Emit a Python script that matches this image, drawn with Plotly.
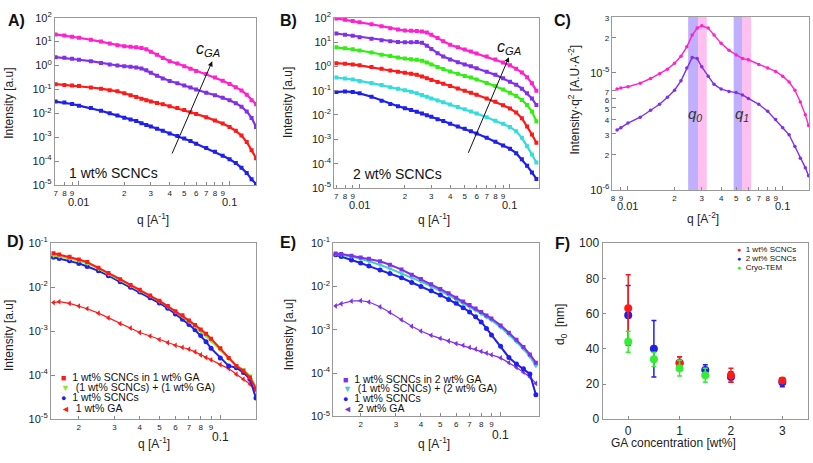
import plotly.graph_objects as go

W, H = 813, 463
FONT = "Liberation Sans, Arial, sans-serif"

# ---------------- data ----------------
# Panels A and B: scattering vector q [1/A] and log10(intensity)
q_AB = [0.007, 0.008, 0.009, 0.010, 0.012, 0.014, 0.016, 0.018, 0.020, 0.022,
        0.024, 0.026, 0.028, 0.030, 0.033, 0.036, 0.040, 0.045, 0.050, 0.055,
        0.060, 0.070, 0.080, 0.090, 0.100, 0.110, 0.120, 0.130, 0.140, 0.150]

A_magenta = [1.30, 1.26, 1.20, 1.16, 1.08, 1.00, 0.92, 0.85, 0.81, 0.78, 0.76, 0.73, 0.68, 0.58, 0.45,
             0.31, 0.18, 0.08, -0.03, -0.14, -0.23, -0.36, -0.50, -0.64, -0.77, -0.91, -1.04, -1.22, -1.45, -1.62]
A_purple = [0.35, 0.32, 0.28, 0.24, 0.18, 0.11, 0.04, 0.00, -0.03, -0.05, -0.08, -0.12, -0.20, -0.30, -0.43,
            -0.54, -0.65, -0.74, -0.84, -0.92, -1.00, -1.14, -1.24, -1.35, -1.45, -1.58, -1.72, -1.92, -2.19, -2.57]
A_red = [-0.78, -0.81, -0.84, -0.86, -0.92, -0.97, -1.03, -1.08, -1.16, -1.24, -1.32, -1.39, -1.45, -1.50, -1.57,
         -1.62, -1.70, -1.78, -1.86, -1.95, -2.03, -2.16, -2.30, -2.43, -2.57, -2.73, -2.93, -3.20, -3.54, -3.88]
A_blue = [-1.51, -1.55, -1.61, -1.68, -1.78, -1.89, -2.00, -2.09, -2.18, -2.26, -2.32, -2.41, -2.49, -2.55, -2.64,
          -2.73, -2.84, -2.95, -3.05, -3.16, -3.27, -3.45, -3.61, -3.77, -3.92, -4.08, -4.28, -4.49, -4.76, -4.96]

B_magenta = [1.97, 1.92, 1.86, 1.81, 1.73, 1.65, 1.57, 1.51, 1.47, 1.46, 1.45, 1.43, 1.39, 1.30, 1.16,
             1.03, 0.89, 0.78, 0.69, 0.61, 0.53, 0.40, 0.28, 0.16, 0.04, -0.10, -0.25, -0.45, -0.70, -1.00]
B_purple = [1.35, 1.30, 1.26, 1.20, 1.13, 1.07, 1.03, 1.00, 0.99, 0.99, 1.00, 0.97, 0.85, 0.71, 0.54,
            0.40, 0.28, 0.17, 0.08, 0.00, -0.08, -0.22, -0.35, -0.49, -0.63, -0.76, -0.92, -1.11, -1.32, -1.59]
B_green = [0.78, 0.74, 0.70, 0.65, 0.57, 0.48, 0.42, 0.36, 0.32, 0.29, 0.27, 0.23, 0.16, 0.08, -0.03,
           -0.11, -0.21, -0.30, -0.40, -0.46, -0.54, -0.68, -0.81, -0.95, -1.09, -1.22, -1.38, -1.59, -1.86, -2.26]
B_red = [0.13, 0.11, 0.08, 0.04, -0.03, -0.10, -0.17, -0.22, -0.26, -0.30, -0.35, -0.42, -0.49, -0.56, -0.64,
         -0.72, -0.81, -0.91, -1.00, -1.09, -1.17, -1.32, -1.46, -1.60, -1.73, -1.90, -2.13, -2.47, -2.80, -3.14]
B_cyan = [-0.46, -0.50, -0.54, -0.60, -0.68, -0.77, -0.86, -0.92, -0.98, -1.04, -1.11, -1.18, -1.25, -1.32, -1.40,
          -1.48, -1.57, -1.67, -1.76, -1.86, -1.94, -2.09, -2.24, -2.36, -2.49, -2.67, -2.94, -3.28, -3.62, -3.95]
B_blue = [-1.06, -1.03, -1.06, -1.11, -1.25, -1.41, -1.55, -1.64, -1.72, -1.79, -1.87, -1.94, -2.01, -2.07, -2.17,
          -2.25, -2.36, -2.47, -2.57, -2.67, -2.76, -2.94, -3.10, -3.25, -3.39, -3.57, -3.82, -4.09, -4.36, -4.63]

# Panel C: Kratky-type plot, log10(I*q^2)
q_C = [0.0085, 0.009, 0.010, 0.012, 0.014, 0.016, 0.018, 0.020, 0.022, 0.024, 0.026, 0.028, 0.030, 0.033,
       0.036, 0.040, 0.045, 0.050, 0.055, 0.060, 0.070, 0.080, 0.090, 0.100, 0.110, 0.120, 0.130, 0.140, 0.147]
C_magenta = [-5.14, -5.13, -5.12, -5.09, -5.05, -5.01, -4.97, -4.92, -4.86, -4.78, -4.68, -4.62, -4.60, -4.62,
             -4.68, -4.75, -4.81, -4.85, -4.88, -4.89, -4.93, -4.96, -4.99, -5.03, -5.08, -5.15, -5.25, -5.36, -5.45]
C_purple = [-5.49, -5.47, -5.43, -5.38, -5.32, -5.27, -5.21, -5.15, -5.07, -4.96, -4.87, -4.88, -4.95, -5.03,
            -5.10, -5.14, -5.16, -5.17, -5.19, -5.22, -5.27, -5.33, -5.40, -5.47, -5.53, -5.63, -5.73, -5.81, -5.88]
q0_band = [0.0245, 0.0284, 0.0323]
q1_band = [0.0482, 0.0547, 0.0625]

# Panels D and E
q_DE = [0.015, 0.016, 0.018, 0.020, 0.022, 0.025, 0.028, 0.032, 0.036, 0.040, 0.045, 0.050, 0.055,
        0.060, 0.065, 0.070, 0.075, 0.080, 0.085, 0.090, 0.100, 0.110, 0.120, 0.130, 0.140, 0.150]
D_mix = [-1.23, -1.26, -1.31, -1.37, -1.43, -1.56, -1.68, -1.82, -1.95, -2.06, -2.19, -2.31, -2.43,
         -2.55, -2.64, -2.76, -2.86, -2.96, -3.06, -3.17, -3.39, -3.61, -3.79, -3.90, -4.05, -4.31]
D_sum = [-1.28, -1.30, -1.35, -1.40, -1.46, -1.58, -1.70, -1.84, -1.97, -2.08, -2.20, -2.32, -2.44,
         -2.56, -2.66, -2.78, -2.89, -3.00, -3.11, -3.22, -3.43, -3.63, -3.79, -3.87, -4.01, -4.27]
D_scnc = [-1.32, -1.35, -1.40, -1.46, -1.53, -1.63, -1.74, -1.88, -2.00, -2.11, -2.24, -2.36, -2.48,
          -2.61, -2.73, -2.85, -2.97, -3.10, -3.24, -3.39, -3.61, -3.79, -3.83, -3.94, -4.09, -4.52]
D_ga = [-2.35, -2.33, -2.37, -2.43, -2.49, -2.59, -2.70, -2.83, -2.93, -3.03, -3.11, -3.19, -3.26,
        -3.32, -3.37, -3.41, -3.47, -3.54, -3.60, -3.65, -3.76, -3.85, -3.98, -4.09, -4.20, -4.34]

E_mix = [-1.24, -1.25, -1.29, -1.33, -1.36, -1.42, -1.50, -1.61, -1.73, -1.83, -1.95, -2.06, -2.16,
         -2.26, -2.35, -2.43, -2.51, -2.59, -2.67, -2.74, -2.90, -3.07, -3.23, -3.40, -3.57, -3.76]
E_sum = [-1.25, -1.27, -1.31, -1.36, -1.42, -1.50, -1.59, -1.70, -1.80, -1.89, -2.00, -2.10, -2.20,
         -2.30, -2.39, -2.47, -2.55, -2.63, -2.71, -2.78, -2.94, -3.11, -3.28, -3.44, -3.62, -3.83]
E_scnc = [-1.27, -1.31, -1.39, -1.46, -1.53, -1.62, -1.70, -1.80, -1.91, -2.00, -2.10, -2.20, -2.30,
          -2.39, -2.49, -2.59, -2.70, -2.82, -2.97, -3.12, -3.38, -3.64, -3.79, -3.90, -4.02, -4.50]
E_ga = [-2.45, -2.40, -2.34, -2.33, -2.36, -2.47, -2.60, -2.77, -2.92, -3.03, -3.13, -3.20, -3.26,
        -3.32, -3.36, -3.41, -3.45, -3.50, -3.54, -3.58, -3.65, -3.76, -3.87, -3.98, -4.09, -4.24]

# Panel F: d0 [nm] versus GA concentration [wt%]
F_conc_1wt = [0, 1, 2, 3]
F_d0_1wt = [63, 32, 25, 22]
F_err_1wt = [19, 3.5, 4, 1.5]
F_conc_2wt = [0, 0.5, 1, 1.5, 2, 3]
F_d0_2wt = [59, 40, 32, 28, 24, 21]
F_err_2wt = [17, 16, 3.5, 3, 3, 2.5]
F_conc_tem = [0, 0.5, 1, 1.5]
F_d0_tem = [44, 34, 29, 25]
F_err_tem = [6, 4, 4.5, 4]

# ---------------- colours ----------------
MAG = "#ff22cc"
PUR = "#8030e8"
RED = "#ff1a1a"
BLU = "#1f1fee"
GRN = "#33ee11"
CYA = "#33dddd"
LIME = "#8ee633"
ECYA = "#44cccc"
FGRN = "#33ee33"


def dom_x(a, b):
    return [a / W, b / W]


def dom_y(top, bot):
    return [1 - bot / H, 1 - top / H]


def log_xaxis(domain, rng, vals, texts, anchor, decades):
    return dict(type="log", domain=domain, range=rng, tickvals=vals, ticktext=texts,
                ticks="inside", ticklen=3, tickcolor="#888", tickwidth=1,
                minor=dict(tickvals=decades, ticks="inside", ticklen=4, tickcolor="#888"),
                showline=True, linecolor="#999", linewidth=1, mirror=True,
                showgrid=False, zeroline=False, anchor=anchor,
                tickfont=dict(size=8, color="#222", family=FONT))


def log_yaxis(domain, rng, vals, texts, anchor):
    return dict(type="log", domain=domain, range=rng, tickvals=vals, ticktext=texts,
                ticks="inside", ticklen=4, tickcolor="#888", tickwidth=1,
                showline=True, linecolor="#999", linewidth=1, mirror=True,
                showgrid=False, zeroline=False, anchor=anchor,
                tickfont=dict(size=11, color="#222", family=FONT))


digits = ["2", "3", "4", "5", "6", "7", "8", "9"]
mid_vals = [0.02, 0.03, 0.04, 0.05, 0.06, 0.07, 0.08, 0.09]

xA_vals = [0.007, 0.008, 0.009] + mid_vals
xA_text = ["7", "8", "9"] + digits
xC_vals = [0.008, 0.009] + mid_vals
xC_text = ["8", "9"] + digits
xD_vals = mid_vals
xD_text = digits
decade_vals = [0.01, 0.1]
decade_labels = ["0.01", "0.1"]

dec_vals = [1e-5, 1e-4, 1e-3, 1e-2, 1e-1, 1e0, 1e1, 1e2]
dec_text = ["10<sup>%d</sup>" % e for e in range(-5, 3)]
dec_vals_DE = [1e-5, 1e-4, 1e-3, 1e-2, 1e-1]
dec_text_DE = ["10<sup>%d</sup>" % e for e in range(-5, 0)]
sd = '<span style="font-size:8px">%s</span>'
yC_vals = [1e-6, 2e-6, 3e-6, 4e-6, 5e-6, 6e-6, 7e-6, 1e-5, 2e-5, 3e-5]
yC_text = ["10<sup>-6</sup>", sd % "2", sd % "3", sd % "4", sd % "5", sd % "6", sd % "7",
           "10<sup>-5</sup>", sd % "2", sd % "3"]

fig = go.Figure()


def curve(q, logI, color, xa, ya, symbol="square", size=4, lw=2.2):
    fig.add_trace(go.Scatter(
        x=q, y=[10 ** v for v in logI], xaxis=xa, yaxis=ya, mode="lines+markers",
        line=dict(color=color, width=lw), marker=dict(symbol=symbol, size=size, color=color),
        showlegend=False, hoverinfo="skip"))


# Panel A
for arr, c in [(A_blue, BLU), (A_red, RED), (A_purple, PUR), (A_magenta, MAG)]:
    curve(q_AB, arr, c, "x", "y")
# Panel B
for arr, c in [(B_blue, BLU), (B_cyan, CYA), (B_red, RED), (B_green, GRN), (B_purple, PUR), (B_magenta, MAG)]:
    curve(q_AB, arr, c, "x2", "y2")
# Panel C
for arr, c in [(C_purple, PUR), (C_magenta, MAG)]:
    curve(q_C, arr, c, "x3", "y3", symbol="circle", size=3.5, lw=1.4)
# Panel D
curve(q_DE, D_ga, RED, "x4", "y4", symbol="triangle-left", size=5, lw=1.2)
curve(q_DE, D_scnc, BLU, "x4", "y4", symbol="circle", size=5, lw=2)
curve(q_DE, D_sum, LIME, "x4", "y4", symbol="triangle-down", size=5, lw=2)
curve(q_DE, D_mix, RED, "x4", "y4", symbol="square", size=4, lw=2)
# Panel E
curve(q_DE, E_ga, PUR, "x5", "y5", symbol="triangle-left", size=5, lw=1.2)
curve(q_DE, E_scnc, BLU, "x5", "y5", symbol="circle", size=5, lw=2)
curve(q_DE, E_sum, ECYA, "x5", "y5", symbol="triangle-down", size=5, lw=2)
curve(q_DE, E_mix, PUR, "x5", "y5", symbol="square", size=4, lw=2)

# Panel F
for xs, ys, es, c in [(F_conc_2wt, F_d0_2wt, F_err_2wt, BLU),
                      (F_conc_1wt, F_d0_1wt, F_err_1wt, RED),
                      (F_conc_tem, F_d0_tem, F_err_tem, FGRN)]:
    fig.add_trace(go.Scatter(
        x=xs, y=ys, xaxis="x6", yaxis="y6", mode="markers",
        marker=dict(symbol="circle", size=8, color=c),
        error_y=dict(type="data", array=es, color=c, thickness=1.5, width=2.5),
        showlegend=False, hoverinfo="skip"))

# Bands in C
shapes = []
for band in (q0_band, q1_band):
    shapes.append(dict(type="rect", x0=band[0], x1=band[1], xref="x3", yref="y3 domain", y0=0, y1=1,
                       fillcolor="rgba(140,110,250,0.55)", line_width=0, layer="below"))
    shapes.append(dict(type="rect", x0=band[1], x1=band[2], xref="x3", yref="y3 domain", y0=0, y1=1,
                       fillcolor="rgba(255,140,225,0.55)", line_width=0, layer="below"))

layout_axes = dict(
    xaxis=log_xaxis(dom_x(53, 255), [-2.16, -0.822], xA_vals, xA_text, "y", decade_vals),
    yaxis=log_yaxis(dom_y(10, 183), [-5, 2], dec_vals, dec_text, "x"),
    xaxis2=log_xaxis(dom_x(333, 538), [-2.169, -0.809], xA_vals, xA_text, "y2", decade_vals),
    yaxis2=log_yaxis(dom_y(10, 186), [-5, 2], dec_vals, dec_text, "x2"),
    xaxis3=log_xaxis(dom_x(612, 809), [-2.1, -0.83], xC_vals, xC_text, "y3", decade_vals),
    yaxis3=log_yaxis(dom_y(9, 188), [-6, -4.523], yC_vals, yC_text, "x3"),
    xaxis4=log_xaxis(dom_x(49, 255), [-1.837, -0.822], xD_vals, xD_text, "y4", [0.1]),
    yaxis4=log_yaxis(dom_y(243, 425), [-5, -1], dec_vals_DE, dec_text_DE, "x4"),
    xaxis5=log_xaxis(dom_x(332, 538), [-1.836, -0.81], xD_vals, xD_text, "y5", [0.1]),
    yaxis5=log_yaxis(dom_y(243, 422), [-5, -1], dec_vals_DE, dec_text_DE, "x5"),
    xaxis6=dict(domain=dom_x(602, 808), range=[-0.5, 3.5], tickvals=[0, 1, 2, 3],
                ticks="inside", ticklen=3, tickcolor="#888", showline=True, linecolor="#999",
                mirror=True, showgrid=False, zeroline=False, anchor="y6",
                tickfont=dict(size=12, color="#222", family=FONT)),
    yaxis6=dict(domain=dom_y(243, 425), range=[0, 100], tickvals=[0, 20, 40, 60, 80, 100],
                ticks="inside", ticklen=3, tickcolor="#888", showline=True, linecolor="#999",
                mirror=True, showgrid=False, zeroline=False, anchor="x6",
                tickfont=dict(size=12, color="#222", family=FONT)),
)

ann = []


def txt(x, y, s, size=12, angle=0, xanchor="center", bold=False, color="#222", italic=False):
    if bold:
        s = "<b>%s</b>" % s
    if italic:
        s = "<i>%s</i>" % s
    ann.append(dict(x=x / W, y=1 - y / H, xref="paper", yref="paper", text=s, showarrow=False,
                    xanchor=xanchor, yanchor="middle", textangle=angle,
                    font=dict(size=size, color=color, family=FONT)))


def decade_tick(xref, logq, y, label, size=11):
    ann.append(dict(x=logq, y=1 - y / H, xref=xref, yref="paper", text=label, showarrow=False,
                    xanchor="center", yanchor="middle",
                    font=dict(size=size, color="#222", family=FONT)))


# decade labels on the log q axes (second row under the digits)
decade_tick("x", -2, 201, decade_labels[0])
decade_tick("x", -1, 201, decade_labels[1])
decade_tick("x2", -2, 204, decade_labels[0])
decade_tick("x2", -1, 204, decade_labels[1])
decade_tick("x3", -2, 205, decade_labels[0])
decade_tick("x3", -1, 205, decade_labels[1])
decade_tick("x4", -1, 443, decade_labels[1], 12)
decade_tick("x5", -1, 441, decade_labels[1], 12)

# panel letters
for lab, x, y in [("A)", 15, 13), ("B)", 287, 13), ("C)", 562, 13),
                  ("D)", 14, 241), ("E)", 287, 242), ("F)", 562, 243)]:
    txt(x, y, lab, size=16, bold=True, color="#111")

# axis titles
txt(7, 98, "Intensity [a.u]", angle=-90)
txt(151, 218, "q [A<sup>-1</sup>]")
txt(287, 98, "Intensity [a.u]", angle=-90)
txt(433, 218, "q [A<sup>-1</sup>]")
txt(573, 95, "Intensity·q<sup>2</sup> [A.U·A<sup>-2</sup>]", angle=-90)
txt(703, 217, "q [A<sup>-2</sup>]")
txt(7, 338, "Intensity [a.u]", angle=-90)
txt(152, 450, "q [A<sup>-1</sup>]")
txt(288, 338, "Intensity [a.u]", angle=-90)
txt(433, 450, "q [A<sup>-1</sup>]")
txt(561, 327, "d<sub>0</sub>  [nm]", angle=-90)
txt(673, 450, "GA concentration [wt%]")

# in-panel labels
txt(65, 171, "1 wt% SCNCs", size=14, xanchor="left", color="#111")
txt(350, 172, "2 wt% SCNCs", size=14, xanchor="left", color="#111")
txt(207, 43, "c<sub>GA</sub>", size=16, italic=True, color="#111")
txt(508, 41, "c<sub>GA</sub>", size=16, italic=True, color="#111")
txt(695, 110, "q<sub>0</sub>", size=15, italic=True, color="#333")
txt(742, 110, "q<sub>1</sub>", size=15, italic=True, color="#333")

# arrows (c_GA direction), in log10 axis units
ann.append(dict(x=-1.115, y=0.176, ax=-1.386, ay=-3.743, xref="x", yref="y", axref="x", ayref="y",
                text="", showarrow=True, arrowhead=2, arrowsize=1, arrowwidth=1, arrowcolor="#111"))
ann.append(dict(x=-1.007, y=0.376, ax=-1.281, ay=-3.616, xref="x2", yref="y2", axref="x2", ayref="y2",
                text="", showarrow=True, arrowhead=2, arrowsize=1, arrowwidth=1, arrowcolor="#111"))

# legends drawn as text lines
SQ, TD, CI, TL = "\u25A0", "\u25BC", "\u25CF", "\u25C4"


def leg(x, y, sym, col, label, size=10.5, symsize=9):
    txt(x, y, '<span style="color:%s;font-size:%dpx">%s</span>  %s' % (col, symsize, sym, label),
        size=size, xanchor="left", color="#111")


leg(57, 381, SQ, RED, "1 wt% SCNCs in 1 wt% GA")
leg(57, 392, TD, LIME, "(1 wt% SCNCs) + (1 wt% GA)")
leg(57, 402, CI, BLU, "1 wt% SCNCs")
leg(57, 413, TL, RED, "1 wt% GA")

leg(340, 383, SQ, PUR, "1 wt% SCNCs in 2 wt% GA")
leg(340, 393, TD, ECYA, "(1 wt% SCNCs) + (2 wt% GA)")
leg(340, 403, CI, BLU, "1 wt% SCNCs")
leg(340, 413, TL, PUR, "2 wt% GA")

leg(735, 250, CI, RED, "1 wt% SCNCs", size=8, symsize=7)
leg(735, 259, CI, BLU, "2 wt% SCNCs", size=8, symsize=7)
leg(735, 268, CI, FGRN, "Cryo-TEM", size=8, symsize=7)

fig.update_layout(
    width=W, height=H, margin=dict(l=0, r=0, t=0, b=0),
    paper_bgcolor="white", plot_bgcolor="white", showlegend=False,
    font=dict(family=FONT, color="#222"),
    annotations=ann, shapes=shapes, **layout_axes)

fig.write_html("out.html", config={"displayModeBar": False},
               post_script="document.body.style.margin='0';")
